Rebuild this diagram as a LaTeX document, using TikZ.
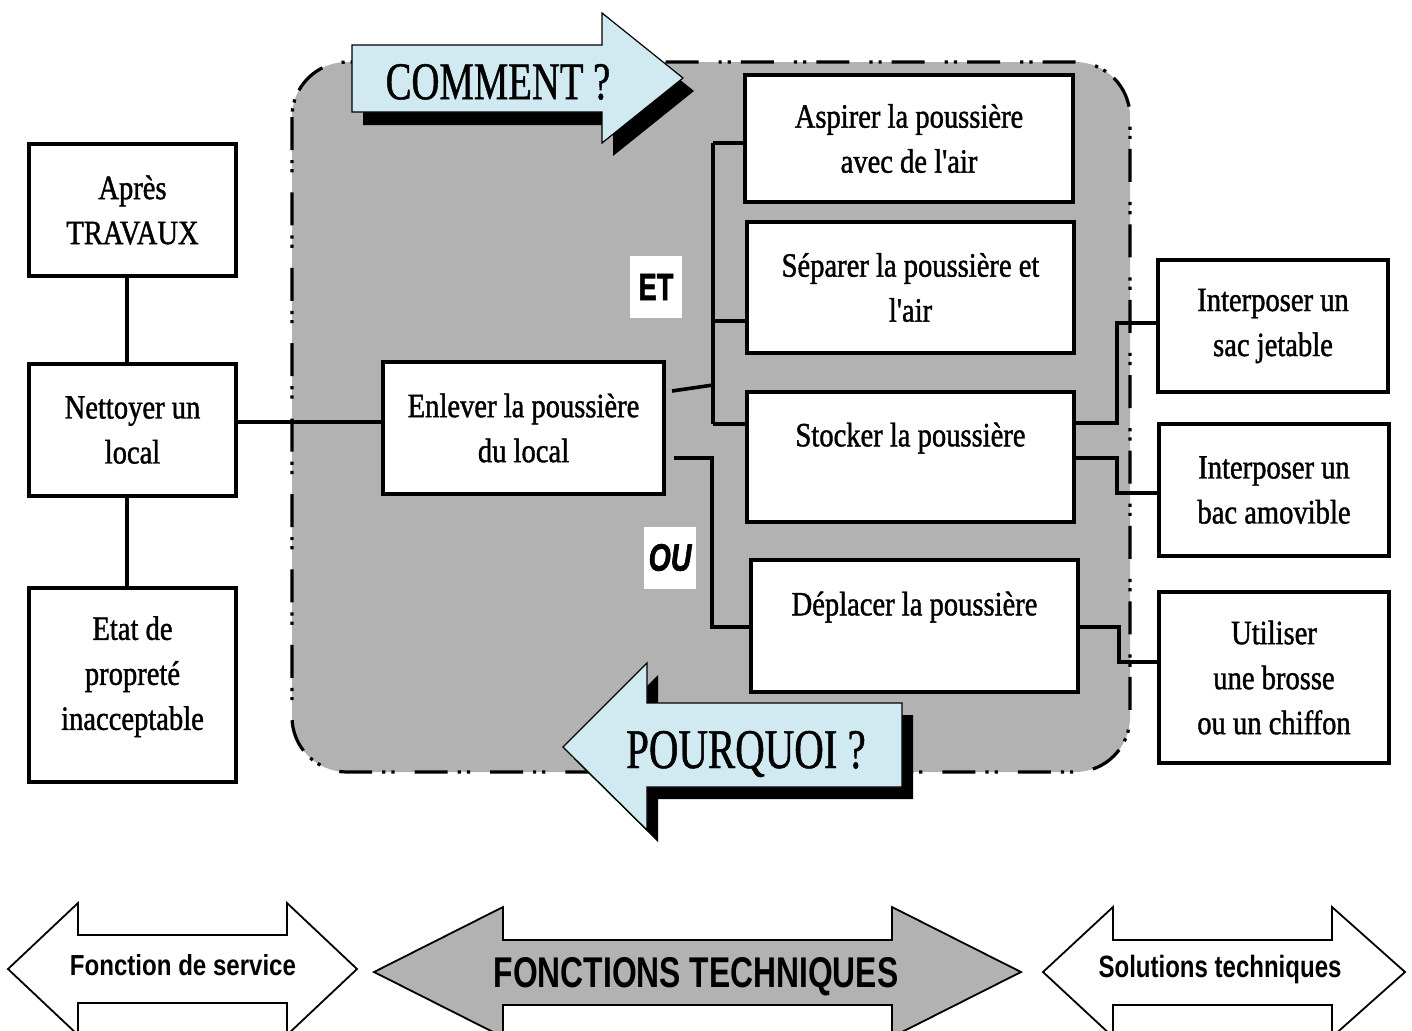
\documentclass[tikz,border=0pt]{standalone}
\usepackage{fontspec}
\usepackage{graphicx}
\setmainfont{Liberation Serif}
\newfontfamily\boxfont[FakeStretch=0.84,FakeBold=1.2]{Liberation Serif}
\newfontfamily\titlefont[FakeStretch=0.73,FakeBold=0.8]{Liberation Serif}
\newfontfamily\sansfont{Liberation Sans}
\newfontfamily\heavyfont[UprightFont=*, BoldFeatures={FakeBold=2}, BoldItalicFeatures={FakeBold=2}]{Liberation Sans}
\usetikzlibrary{calc}
\definecolor{lb}{RGB}{209,233,241}
\definecolor{zone}{RGB}{178,178,178}
\begin{document}
\begin{tikzpicture}[x=0.5pt,y=-0.5pt,
  fbox/.style={draw, line width=2.3pt, fill=white, inner sep=0pt, outer sep=0pt, align=center,
    font=\boxfont\fontsize{17}{22.5}\selectfont},
  link/.style={line width=1.8pt},
  bluearrow/.style={fill=lb, draw=black, line width=0.6pt, line join=miter},
  shadowarrow/.style={fill=black},
  dbl/.style={draw=black, line width=0.9pt, line join=miter},
  tag/.style={fill=white, inner sep=0pt, minimum width=26pt, minimum height=31pt}
]
\clip (0,0) rectangle (1412,1030);
\fill[white] (0,0) rectangle (1412,1030);

% zone
\draw[line width=1.6pt, fill=zone, rounded corners=27.5pt,
  dash pattern=on 16.5pt off 5pt on 1.6pt off 3pt on 1.6pt off 10pt]
  (292,62) rectangle (1130,772);

% COMMENT arrow
\fill[shadowarrow, shift={(11,13)}] (352,45) -- (602,45) -- (602,13) -- (683,78) -- (602,143) -- (602,112) -- (352,112) -- cycle;
\draw[bluearrow] (352,45) -- (602,45) -- (602,13) -- (683,78) -- (602,143) -- (602,112) -- (352,112) -- cycle;
\node[font=\titlefont\fontsize{26.5}{30}\selectfont, inner sep=0pt] (comment) at (498,82) {COMMENT ?};

% POURQUOI arrow
\fill[shadowarrow, shift={(11,12)}] (563,747) -- (647,663) -- (647,703) -- (902,703) -- (902,787) -- (647,787) -- (647,830) -- cycle;
\draw[bluearrow] (563,747) -- (647,663) -- (647,703) -- (902,703) -- (902,787) -- (647,787) -- (647,830) -- cycle;
\node[font=\titlefont\fontsize{28}{30}\selectfont, inner sep=0pt, anchor=base] (pourquoi) at (746,768) {POURQUOI ?};

% left boxes
\node[fbox, minimum width=103.5pt, minimum height=66pt] (apres) at (132.5,210) {Après\\TRAVAUX};
\node[fbox, minimum width=103.5pt, minimum height=66pt] (nettoyer) at (132.5,430) {Nettoyer un\\local};
\node[fbox, minimum width=103.5pt, minimum height=97pt] (etat) at (132.5,685) {Etat de\\propreté\\inacceptable\\[-10.5pt]\mbox{}};

% central
\node[fbox, minimum width=140.5pt, minimum height=66pt] (enlever) at (523.5,428) {Enlever la poussière\\du local};
\node[fbox, minimum width=164pt, minimum height=63.5pt] (aspirer) at (909,138.5) {Aspirer la poussière\\avec de l'air};
\node[fbox, minimum width=163.5pt, minimum height=65.5pt] (separer) at (910.5,287.5) {Séparer la poussière et\\l'air};
\node[fbox, minimum width=163.5pt, minimum height=65pt] (stocker) at (910.5,457) {Stocker la poussière\\\mbox{}};
\node[fbox, minimum width=163.5pt, minimum height=66pt] (deplacer) at (914.5,626) {Déplacer la poussière\\\mbox{}};

% right boxes
\node[fbox, minimum width=115pt, minimum height=66pt] (sac) at (1273,326) {Interposer un\\sac jetable};
\node[fbox, minimum width=115pt, minimum height=66pt] (bac) at (1274,490) {Interposer un\\bac amovible};
\node[fbox, minimum width=115pt, minimum height=85.5pt] (utiliser) at (1274,677.5) {Utiliser\\une brosse\\ou un chiffon};

% tags
\node[tag] (et) at (656,287) {\scalebox{0.72}[1]{\heavyfont\bfseries\fontsize{19}{20}\selectfont ET}};
\node[tag] (ou) at (670,557.5) {\scalebox{0.75}[1]{\heavyfont\bfseries\itshape\fontsize{19}{20}\selectfont OU}};

% left connectors
\draw[link] ([xshift=-2.75pt]apres.south) -- ([xshift=-2.75pt]nettoyer.north);
\draw[link] ([xshift=-2.75pt]nettoyer.south) -- ([xshift=-2.75pt]etat.north);
\draw[link] ([yshift=4pt]nettoyer.east) -- ([yshift=4pt]nettoyer.east -| enlever.west);

% ET bus
\coordinate (b1) at (713,143);
\coordinate (b2) at (713,321);
\coordinate (b3) at (713,424);
\coordinate (et0) at (672,391);
\coordinate (et1) at (713,385);
\draw[link] (b1) -- (b3);
\draw[link] (b1) -- (b1 -| aspirer.west);
\draw[link] (b2) -- (b2 -| separer.west);
\draw[link] (b3) -- (b3 -| stocker.west);
\draw[link] (et0) -- (et1);

% OU branch
\coordinate (ou0) at (674,458);
\coordinate (ou1) at (712,458);
\coordinate (ou2) at (712,627);
\draw[link] (ou0) -- (ou1) -- (ou2) -- (ou2 -| deplacer.west);

% right connectors
\coordinate (r1) at (1117,423);
\coordinate (r1b) at (1117,323);
\draw[link] (r1 -| stocker.east) -- (r1) -- (r1b) -- (r1b -| sac.west);
\coordinate (r2) at (1117,458);
\coordinate (r2b) at (1117,493);
\draw[link] (r2 -| stocker.east) -- (r2) -- (r2b) -- (r2b -| bac.west);
\coordinate (r3) at (1119,627);
\coordinate (r3b) at (1119,662);
\draw[link] (r3 -| deplacer.east) -- (r3) -- (r3b) -- (r3b -| utiliser.west);

% bottom double arrows
\draw[dbl, fill=white] (8,969) -- (78,903) -- (78,935) -- (287,935) -- (287,903) -- (357,969) -- (287,1035) -- (287,1003) -- (78,1003) -- (78,1035) -- cycle;
\draw[dbl, fill=zone] (374,972) -- (503,907) -- (503,940) -- (892,940) -- (892,907) -- (1021,972) -- (892,1037) -- (892,1005) -- (503,1005) -- (503,1037) -- cycle;
\draw[dbl, fill=white] (1043,972) -- (1113,907) -- (1113,940) -- (1332,940) -- (1332,907) -- (1405,972) -- (1332,1037) -- (1332,1005) -- (1113,1005) -- (1113,1037) -- cycle;

\node[anchor=base, inner sep=0pt] (fs) at (183,975) {\scalebox{0.83}[1]{\sansfont\bfseries\fontsize{14.5}{16}\selectfont Fonction de service}};
\node[anchor=base, inner sep=0pt] (ft) at (696,987) {\scalebox{0.74}[1]{\sansfont\bfseries\fontsize{21.5}{24}\selectfont FONCTIONS TECHNIQUES}};
\node[anchor=base, inner sep=0pt] (st) at (1220,977) {\scalebox{0.78}[1]{\sansfont\bfseries\fontsize{15.4}{17}\selectfont Solutions techniques}};
\end{tikzpicture}
\end{document}
